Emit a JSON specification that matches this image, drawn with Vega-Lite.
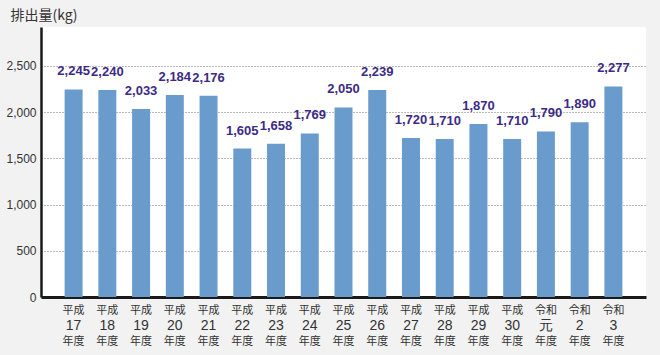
{
  "$schema": "https://vega.github.io/schema/vega-lite/v6.json",
  "width": 605,
  "height": 270,
  "autosize": {"type": "none"},
  "padding": {"top": 27, "left": 41, "right": 14, "bottom": 58},
  "background": "#f2f2f2",
  "view": {"fill": "white", "stroke": null},
  "data": {
    "values": [
      {"key": "平成17", "value": 2245},
      {"key": "平成18", "value": 2240},
      {"key": "平成19", "value": 2033},
      {"key": "平成20", "value": 2184},
      {"key": "平成21", "value": 2176},
      {"key": "平成22", "value": 1605},
      {"key": "平成23", "value": 1658},
      {"key": "平成24", "value": 1769},
      {"key": "平成25", "value": 2050},
      {"key": "平成26", "value": 2239},
      {"key": "平成27", "value": 1720},
      {"key": "平成28", "value": 1710},
      {"key": "平成29", "value": 1870},
      {"key": "平成30", "value": 1710},
      {"key": "令和元", "value": 1790},
      {"key": "令和2", "value": 1890},
      {"key": "令和3", "value": 2277}
    ]
  },
  "resolve": {"axis": {"x": "independent"}},
  "layer": [
    {
      "mark": {"type": "bar", "color": "#6a9bcd"},
      "encoding": {
        "x": {
          "field": "key", "type": "nominal", "sort": null,
          "scale": {"paddingInner": 0.467, "paddingOuter": 0.7},
          "axis": {
            "orient": "bottom", "title": null, "labelAngle": 0, "ticks": false,
            "domain": true, "domainColor": "#1a1a1a", "domainWidth": 3,
            "labelExpr": "slice(datum.value, 0, 2)",
            "labelFont": "Noto Sans CJK JP", "labelFontSize": 11, "labelColor": "#333333",
            "labelPadding": 7
          }
        },
        "y": {
          "field": "value", "type": "quantitative",
          "scale": {"domain": [0, 2920], "nice": false},
          "axis": {
            "values": [0, 500, 1000, 1500, 2000, 2500],
            "labelExpr": "format(datum.value, ',')",
            "title": "排出量(kg)",
            "titleAngle": 0, "titleAlign": "left", "titleBaseline": "middle",
            "titleX": -31, "titleY": -12,
            "titleFont": "Noto Sans CJK JP", "titleFontSize": 14, "titleFontWeight": "normal", "titleColor": "#333333",
            "labelFont": "Liberation Sans", "labelFontSize": 12, "labelColor": "#333333",
            "labelPadding": 5, "ticks": false,
            "domainColor": "#1a1a1a", "domainWidth": 2.5,
            "grid": true, "gridColor": "#777777", "gridDash": [1, 2], "gridWidth": 1
          }
        }
      }
    },
    {
      "mark": {"type": "text", "font": "Liberation Sans", "fontWeight": "bold", "fontSize": 13, "color": "#3c2a86", "baseline": "alphabetic", "dy": -14},
      "encoding": {
        "x": {
          "field": "key", "type": "nominal", "sort": null,
          "axis": {
            "orient": "bottom", "title": null, "labelAngle": 0, "ticks": false, "domain": false, "grid": false,
            "labelExpr": "slice(datum.value, 2)",
            "labelFont": "Liberation Sans", "labelFontSize": 14, "labelColor": "#333333",
            "labelPadding": 21
          }
        },
        "y": {"field": "value", "type": "quantitative"},
        "text": {"field": "value", "type": "quantitative", "format": ","}
      }
    },
    {
      "mark": {"type": "point", "opacity": 0},
      "encoding": {
        "x": {
          "field": "key", "type": "nominal", "sort": null,
          "axis": {
            "orient": "bottom", "title": null, "labelAngle": 0, "ticks": false, "domain": false, "grid": false,
            "labelExpr": "'年度'",
            "labelFont": "Noto Sans CJK JP", "labelFontSize": 11, "labelColor": "#333333",
            "labelPadding": 38
          }
        },
        "y": {"field": "value", "type": "quantitative"}
      }
    }
  ]
}
